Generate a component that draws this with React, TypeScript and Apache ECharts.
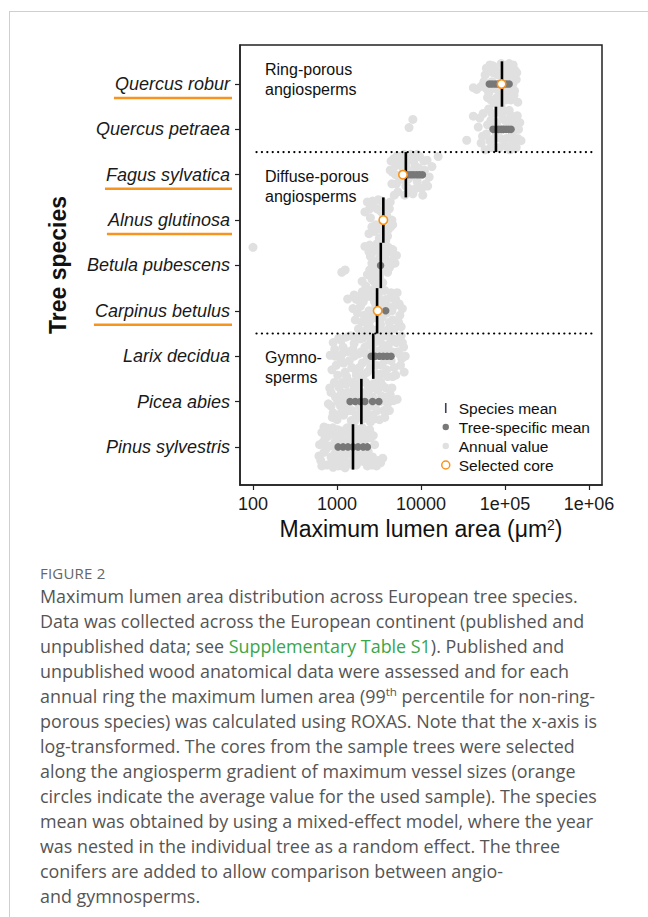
import React, { useEffect, useRef } from 'react';
import * as echarts from 'echarts';

// ---------------- data ----------------
const species = [
  'Quercus robur', 'Quercus petraea', 'Fagus sylvatica', 'Alnus glutinosa', 'Betula pubescens',
  'Carpinus betulus', 'Larix decidua', 'Picea abies', 'Pinus sylvestris',
];
const underlinedSpecies = ['Quercus robur', 'Fagus sylvatica', 'Alnus glutinosa', 'Carpinus betulus'];

const speciesMean = [92000, 78000, 6600, 3560, 3320, 3000, 2700, 1950, 1550];

const treeMeans: number[][] = [
  [65000, 70000, 76000, 82000, 88000, 96000, 104000, 112000],
  [72000, 78000, 84000, 90000, 96000, 103000, 110000, 118000],
  [7000, 7600, 8200, 8900, 9600, 10400],
  [3560],
  [3300],
  [3050, 3800],
  [2550, 2850, 3200, 3550, 3950, 4400],
  [1430, 1650, 1900, 2150, 2650, 3150],
  [1030, 1180, 1350, 1550, 1780, 2050, 2300],
];

const selectedCore: (number | null)[] = [91000, null, 6100, 3560, null, 3050, null, null, null];

// annual values: [maximum lumen area, vertical jitter]
const annualRobur = [[42000,-0.08],[46000,-0.12],[52000,-0.05],[58000,0.2],[62000,-0.3],[66000,0.42],[70000,0.05],[74000,-0.42],[78000,0.3],[84000,-0.15],[90000,0.45],[96000,0.15],[102000,-0.35],[108000,0.35],[114000,-0.05],[120000,0.25],[128000,-0.25],[136000,0.1],[142000,-0.4],[64000,-0.2],[88000,-0.45],[100000,0.4],[125000,0.42],[72000,0.25],[80000,-0.3],[110000,-0.2],[132000,0.3],[60000,0.35],
  [56000,0.05],[60000,-0.1],[68000,-0.35],[72000,0.4],[76000,-0.1],[82000,0.2],[86000,-0.3],[94000,-0.2],[98000,0.3],[106000,0.1],[112000,0.45],[118000,-0.35],[124000,0.0],[130000,-0.15],[138000,0.25],[116000,0.2],[92000,0.05],[104000,-0.1]];
const annualPetraea = [[8000,0.22],[7200,0.04],[42000,0.29],[35000,-0.24],[48000,0.05],[52000,-0.3],[55000,0.35],[60000,-0.1],[64000,0.45],[68000,0.2],[72000,-0.4],[76000,0.1],[82000,0.38],[88000,-0.2],[94000,0.25],[100000,-0.35],[106000,0.05],[112000,0.42],[120000,-0.15],[128000,0.2],[136000,-0.4],[145000,0.0],[155000,-0.25],[58000,-0.45],[90000,0.5],[115000,-0.45],[140000,0.3],[78000,-0.05],[66000,-0.25],[125000,-0.3],
  [50000,0.25],[54000,-0.15],[62000,0.1],[70000,0.35],[74000,-0.2],[80000,0.15],[86000,-0.4],[92000,0.0],[98000,0.4],[104000,-0.2],[110000,0.15],[118000,0.3],[124000,-0.05],[132000,0.05],[142000,-0.2],[150000,0.15],[84000,0.48],[100000,0.2],[68000,-0.4],[108000,-0.4]];
const annualFagus = [[4300,0.1],[4500,-0.2],[4700,0.35],[5000,0.0],[5300,-0.38],[5600,0.25],[6000,-0.1],[6300,0.45],[6700,0.15],[7100,-0.3],[7500,0.38],[8000,-0.42],[8500,0.2],[9000,-0.15],[9600,0.4],[10200,-0.3],[11000,0.1],[11800,0.32],[12500,-0.05],[13500,0.18],[16000,0.4],[5200,0.42],[7800,0.05],[10500,-0.45],[4800,-0.45],[12000,-0.25],[6400,-0.45],[9000,0.45],[5800,0.2],[7000,-0.1],
  [4400,0.3],[4600,0.05],[5100,-0.2],[5500,-0.05],[5900,0.38],[6200,0.1],[6600,-0.25],[6900,0.3],[7300,-0.05],[7700,-0.35],[8200,0.3],[8700,-0.3],[9300,0.15],[9900,0.0],[10800,0.3],[11400,-0.2],[5000,0.2],[7500,0.45]];
const annualAlnus = [[2150,0.18],[2300,0.4],[2500,0.05],[2700,0.3],[2900,-0.1],[3100,0.45],[3300,0.2],[3500,-0.05],[3700,0.35],[3900,0.1],[4200,0.25],[4500,0.0],[4100,-0.2],[3600,-0.3],[3200,-0.4],[2800,-0.25],[3800,-0.45],[3400,0.42],[4600,-0.1],[2600,-0.15],
  [2400,-0.3],[2650,0.42],[3000,0.25],[3350,-0.2],[3850,0.25],[4300,0.4],[4000,-0.35],[2450,0.25],[3550,0.12],[4350,-0.15]];
const annualBetula = [[100,0.4],[1140,-0.15],[1250,-0.1],[2150,0.42],[1990,-0.35],[2450,0.45],[2700,0.3],[3000,0.48],[3300,0.2],[3600,0.38],[3900,0.1],[4300,0.3],[4700,0.15],[5100,0.22],[2600,0.05],[2900,-0.05],[3400,0.0],[3800,-0.08],[4400,0.02],[2300,-0.2],[2600,-0.3],[2900,-0.42],[3200,-0.25],[3500,-0.38],[2200,-0.45],[2800,-0.15],[4000,-0.15],[3100,0.12],
  [2500,0.2],[2750,0.4],[3150,0.35],[3450,0.45],[3700,0.22],[4100,0.4],[4600,0.35],[4900,0.05],[3650,0.05],[4200,-0.05],[2450,-0.1],[2750,-0.35],[3300,-0.15],[3000,-0.3],[2400,0.3]];
const annualCarpinus = [[1340,0.26],[1550,0.05],[1650,-0.2],[1700,0.25],[1800,-0.4],[1900,0.1],[2000,0.42],[2100,-0.1],[2200,0.3],[2300,-0.3],[2400,0.0],[2550,0.45],[2650,-0.42],[2800,0.2],[2950,-0.15],[3100,0.35],[3300,-0.3],[3500,0.1],[3700,0.45],[3900,-0.05],[4100,-0.4],[4300,0.28],[4600,-0.2],[4900,0.12],[5200,0.4],[5600,-0.1],[6000,0.05],[5800,-0.35],[2150,-0.45],[3600,-0.45],[2600,0.3],[4500,0.0],
  [1600,0.35],[1750,-0.05],[1850,0.3],[1950,-0.25],[2050,0.2],[2250,-0.15],[2350,0.42],[2500,-0.2],[2700,-0.05],[2750,0.4],[2900,0.1],[3000,-0.42],[3200,0.2],[3400,0.45],[3450,-0.15],[3800,0.25],[4000,0.1],[4200,-0.25],[4400,0.4],[4800,-0.4],[5000,0.25],[5400,-0.25],[5500,0.15],[2450,-0.35],[3300,-0.05]];
const annualLarix = [[830,0.02],[900,0.3],[980,-0.2],[1050,0.4],[1100,-0.05],[1180,0.2],[1250,-0.35],[1350,0.1],[1450,0.45],[1500,-0.25],[1600,0.28],[1700,-0.42],[1800,0.05],[1900,0.38],[2000,-0.15],[2150,0.2],[2300,-0.35],[2450,0.42],[2600,-0.05],[2800,0.3],[3000,-0.4],[3200,0.12],[3400,-0.2],[3650,0.45],[3900,-0.3],[4100,0.25],[4400,-0.1],[4700,0.38],[5000,-0.42],[5300,0.1],[5700,-0.2],[6000,0.3],[6500,0.0],[6300,-0.35],[1300,-0.45],[2200,0.05],[4600,-0.45],[5800,0.45],[1600,0.0],[3300,0.4],
  [870,-0.3],[940,0.15],[1020,-0.42],[1120,0.35],[1200,-0.15],[1280,0.42],[1400,-0.1],[1550,0.15],[1650,-0.3],[1750,0.42],[1850,-0.25],[1950,0.1],[2050,0.4],[2100,-0.4],[2250,-0.1],[2400,0.25],[2500,-0.25],[2700,0.12],[2900,-0.2],[3100,0.4],[3300,-0.4],[3500,0.25],[3700,-0.1],[3800,0.15],[4000,-0.45],[4200,0.42],[4500,0.1],[4800,-0.25],[5100,0.3],[5500,0.05],[5900,-0.05],[6200,0.2],[950,0.0],[1150,0.05]];
const annualPicea = [[790,-0.05],[850,0.2],[900,-0.25],[960,0.1],[1000,-0.4],[1050,0.32],[1100,-0.1],[1150,0.05],[1200,-0.3],[1280,0.38],[1350,0.2],[1400,-0.2],[1480,-0.42],[1550,0.42],[1620,0.12],[1700,-0.3],[1780,0.3],[1850,-0.1],[1950,0.45],[2050,-0.38],[2150,0.2],[2250,-0.15],[2350,0.35],[2450,0.05],[2600,-0.3],[2750,0.4],[2900,-0.05],[3050,0.25],[3200,-0.4],[3400,0.12],[3600,-0.2],[3800,0.3],[4000,-0.05],[4300,0.15],[4700,0.02],[5200,0.05],[1150,0.42],[2500,-0.45],[3300,0.44],[1700,0.2],
  [820,0.3],[880,-0.35],[930,0.42],[1020,0.0],[1080,-0.28],[1130,0.2],[1230,-0.12],[1300,0.05],[1380,0.45],[1450,0.0],[1520,-0.2],[1600,0.3],[1650,-0.42],[1750,0.05],[1820,0.4],[1900,-0.25],[2000,0.15],[2100,-0.05],[2200,0.42],[2300,-0.3],[2400,0.25],[2550,-0.1],[2650,0.1],[2800,-0.38],[2850,0.3],[3000,-0.2],[3150,0.45],[3250,0.0],[3500,0.35],[3700,-0.35],[3900,0.1],[4200,-0.2],[4500,0.3],[850,-0.1],[1250,0.15]];
const annualPinus = [[620,0.05],[640,-0.3],[660,0.32],[700,-0.12],[720,0.18],[760,-0.4],[780,0.41],[820,0.02],[850,-0.22],[870,0.28],[920,-0.35],[950,0.12],[980,-0.05],[1020,0.38],[1060,-0.28],[1100,0.22],[1150,-0.42],[1180,0.05],[1230,0.33],[1280,-0.15],[1320,0.42],[1380,-0.35],[1420,0.15],[1480,-0.05],[1530,0.3],[1600,-0.25],[1650,0.4],[1700,-0.4],[1760,0.08],[1820,0.25],[1900,-0.18],[1980,0.36],[2050,-0.32],[2100,0.12],[2200,-0.08],[2300,0.3],[2400,-0.38],[2500,0.2],[2650,-0.22],[2800,0.05],[2950,-0.42],[3100,-0.3],[2300,-0.42],[900,-0.45],[1250,-0.46],[700,0.44],
  [610,-0.2],[680,0.1],[740,-0.05],[800,0.3],[830,-0.38],[890,0.42],[940,-0.15],[1000,0.2],[1040,-0.42],[1080,0.05],[1130,0.35],[1200,-0.25],[1260,0.12],[1350,0.3],[1400,-0.15],[1460,0.4],[1550,-0.4],[1620,0.15],[1680,-0.1],[1750,0.38],[1850,-0.3],[1950,0.05],[2000,0.42],[2150,-0.25],[2250,0.2],[2350,-0.1],[2450,0.38],[2600,-0.4],[2700,0.25],[3300,-0.35],[3500,-0.25],[660,-0.42],[760,0.22],[1100,-0.15],[1450,0.0]];
const annualValues = [annualRobur, annualPetraea, annualFagus, annualAlnus, annualBetula, annualCarpinus, annualLarix, annualPicea, annualPinus];

const xTicks = [100, 1000, 10000, 100000, 1000000];
const xTickLabels = ['100', '1000', '10000', '1e+05', '1e+06'];
const groupBoundaries = [7.5, 3.5];
const groupSpan = [110, 1100000];
const groupLabels = ['Ring-porous\nangiosperms', 'Diffuse-porous\nangiosperms', 'Gymno-\nsperms'];

// ---------------- styles ----------------
const FONT = '"Liberation Sans", Arial, sans-serif';
const ORANGE = '#f7941d';
const rowPos = (i: number) => species.length - i;
// legend icons drawn inside a 10x10 box so that their sizes differ
const ICON_BAR = 'path://M0,0M10,10M4.2,0H5.8V10H4.2Z';
const ICON_DOT = 'path://M0,0M10,10M1.8,5a3.2,3.2 0 1,0 6.4,0a3.2,3.2 0 1,0 -6.4,0Z';
const ICON_RING = 'path://M0,0M10,10M1,5a4,4 0 1,0 8,0a4,4 0 1,0 -8,0Z';

export default function App() {
  const ref = useRef<HTMLDivElement>(null);
  useEffect(() => {
    document.body.style.margin = '0';
    const chart = echarts.init(ref.current!, undefined, { renderer: 'svg' });

    const annualData: number[][] = [];
    annualValues.forEach((arr, i) => arr.forEach(([v, j]) => annualData.push([v, rowPos(i) + j])));
    const treeData: number[][] = [];
    treeMeans.forEach((arr, i) => arr.forEach((v) => treeData.push([v, rowPos(i)])));
    const meanData = speciesMean.map((v, i) => [v, rowPos(i)]);
    const coreData = selectedCore
      .map((v, i) => (v == null ? null : [v, rowPos(i)]))
      .filter((d) => d != null) as number[][];

    const option: any = {
      animation: false,
      grid: { left: 240, right: 46, top: 45, bottom: 75, show: true, borderColor: '#222', borderWidth: 1.5, backgroundColor: 'transparent' },
      xAxis: {
        type: 'log', logBase: 10, min: 70, max: 1428000,
        axisLine: { show: true, lineStyle: { color: '#222', width: 1.5 } },
        axisTick: { show: true, customValues: xTicks, length: 5, lineStyle: { color: '#222', width: 1.2 } },
        axisLabel: {
          customValues: xTicks, margin: 10, fontSize: 18, color: '#1a1a1a', fontFamily: FONT,
          formatter: (v: number) => xTickLabels[xTicks.findIndex((t) => Math.abs(t - v) / t < 1e-6)] ?? '',
        },
        splitLine: { show: false },
        name: '{a|Maximum lumen area (μm}{s|2}{a|)}',
        nameLocation: 'middle', nameGap: 19,
        nameTextStyle: {
          rich: {
            a: { fontSize: 23, fontFamily: FONT, color: '#111' },
            s: { fontSize: 14, fontFamily: FONT, color: '#111', verticalAlign: 'top' },
          },
        },
      },
      yAxis: {
        type: 'value', min: 0.16, max: 9.86,
        axisLine: { show: true, lineStyle: { color: '#222', width: 1.5 } },
        axisTick: { show: true, customValues: [1, 2, 3, 4, 5, 6, 7, 8, 9], length: 5, lineStyle: { color: '#222', width: 1.2 } },
        axisLabel: {
          customValues: [1, 2, 3, 4, 5, 6, 7, 8, 9], margin: 10, fontSize: 18, fontStyle: 'italic', color: '#1a1a1a', fontFamily: FONT,
          formatter: (v: number) => species[species.length - Math.round(v)] ?? '',
        },
        splitLine: { show: false },
        name: 'Tree species', nameLocation: 'middle', nameGap: 171,
        nameTextStyle: { fontSize: 23, fontWeight: 'bold', color: '#111', fontFamily: FONT },
      },
      legend: {
        orient: 'vertical', left: 435, top: 395, itemWidth: 16, itemHeight: 10, itemGap: 3,
        selectedMode: false,
        textStyle: { fontSize: 15.5, color: '#111', fontFamily: FONT, lineHeight: 16 },
        data: [
          { name: 'Species mean', icon: ICON_BAR, itemStyle: { color: '#3d4252', borderWidth: 0 } },
          { name: 'Tree-specific mean', icon: ICON_DOT, itemStyle: { color: '#787878', borderWidth: 0 } },
          { name: 'Annual value', icon: ICON_DOT, itemStyle: { color: '#e0e0e0', borderWidth: 0 } },
          { name: 'Selected core', icon: ICON_RING, itemStyle: { color: '#fff', borderColor: ORANGE, borderWidth: 1.5 } },
        ],
      },
      graphic: groupLabels.map((t, i) => ({
        type: 'text', left: 265, top: [60, 167, 348][i], z: 10,
        style: { text: t, fontSize: 16, lineHeight: 19.5, fill: '#111', fontFamily: FONT },
      })),
      series: [
        {
          name: 'Annual value', type: 'scatter', data: annualData, symbol: 'circle', symbolSize: 9, z: 2,
          itemStyle: { color: '#e0e0e0', opacity: 1 },
        },
        ...groupBoundaries.map((b) => ({
          name: 'separator', type: 'line', data: [[groupSpan[0], b], [groupSpan[1], b]], symbol: 'none', z: 3,
          lineStyle: { color: '#000', width: 2.2, type: [0.1, 5.3], cap: 'round' },
        })),
        {
          name: 'Tree-specific mean', type: 'scatter', data: treeData, symbol: 'circle', symbolSize: 7.5, z: 4,
          itemStyle: { color: '#787878', opacity: 1 },
        },
        {
          name: 'Species mean', type: 'custom', data: meanData, z: 5, encode: { x: 0, y: 1 },
          renderItem: (_p: any, api: any) => {
            const v = api.value(0);
            const p = api.value(1);
            const a = api.coord([v, p + 0.5]);
            const b = api.coord([v, p - 0.5]);
            return { type: 'line', shape: { x1: a[0], y1: a[1], x2: b[0], y2: b[1] }, style: { stroke: '#000', lineWidth: 2.6 } };
          },
        },
        {
          name: 'Selected core', type: 'scatter', data: coreData, symbol: 'circle', symbolSize: 8.5, z: 6,
          itemStyle: { color: '#fff', borderColor: ORANGE, borderWidth: 1.6, opacity: 1 },
        },
      ],
    };
    chart.setOption(option);

    // orange underlines under the selected species' axis labels
    const ctx = document.createElement('canvas').getContext('2d')!;
    ctx.font = `italic 18px ${FONT}`;
    const lines = underlinedSpecies.map((name) => {
      const i = species.indexOf(name);
      const y = chart.convertToPixel({ yAxisIndex: 0 }, rowPos(i)) as number;
      const w = ctx.measureText(name).width;
      const right = 240 - 10;
      return {
        type: 'line', z: 10,
        shape: { x1: right - w - 1, y1: y + 14, x2: right + 2, y2: y + 14 },
        style: { stroke: ORANGE, lineWidth: 2.5 },
      };
    });
    chart.setOption({ graphic: [...option.graphic, ...lines] });

    return () => chart.dispose();
  }, []);

  const cap: React.CSSProperties = {
    position: 'absolute', left: 40, top: 584, width: 608, fontFamily: '"Open Sans", Lato, sans-serif',
    fontSize: 17.9, lineHeight: '25px', color: '#555', whiteSpace: 'nowrap',
  };
  return (
    <div style={{ position: 'relative', width: 648, height: 917, background: '#fff', overflow: 'hidden' }}>
      <div style={{ position: 'absolute', left: 9, top: 11, right: 0, bottom: 0, borderTop: '1px solid #cfcfcf', borderLeft: '1px solid #cfcfcf' }} />
      <div ref={ref} style={{ position: 'absolute', left: 0, top: 0, width: 648, height: 560 }} />
      <div style={{ position: 'absolute', left: 40, top: 563, fontFamily: '"Open Sans", Lato, sans-serif', fontSize: 15, color: '#666', letterSpacing: 0.2 }}>FIGURE 2</div>
      <div style={cap}>
        Maximum lumen area distribution across European tree species.<br />
        Data was collected across the European continent (published and<br />
        unpublished data; see <span style={{ color: '#3aa648' }}>Supplementary Table S1</span>). Published and<br />
        unpublished wood anatomical data were assessed and for each<br />
        annual ring the maximum lumen area (99<sup style={{ fontSize: '0.65em', lineHeight: 0 }}>th</sup> percentile for non-ring-<br />
        porous species) was calculated using ROXAS. Note that the x-axis is<br />
        log-transformed. The cores from the sample trees were selected<br />
        along the angiosperm gradient of maximum vessel sizes (orange<br />
        circles indicate the average value for the used sample). The species<br />
        mean was obtained by using a mixed-effect model, where the year<br />
        was nested in the individual tree as a random effect. The three<br />
        conifers are added to allow comparison between angio-<br />
        and gymnosperms.
      </div>
    </div>
  );
}
